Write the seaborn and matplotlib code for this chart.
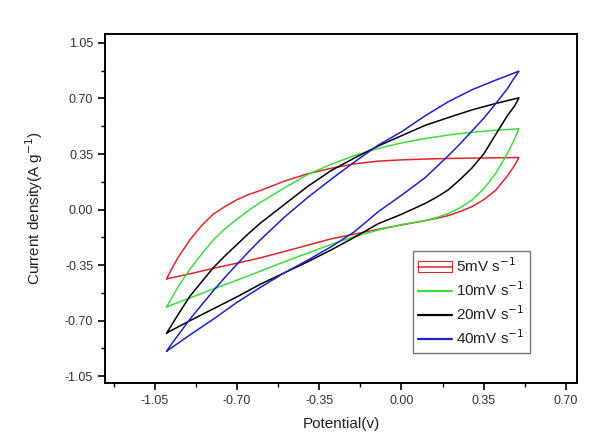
import numpy as np
import pandas as pd
import matplotlib
matplotlib.use("Agg")
import matplotlib.pyplot as plt
import seaborn as sns
from matplotlib.patches import Rectangle
from matplotlib.lines import Line2D
from matplotlib.ticker import MultipleLocator

# Potential grids (V): anodic sweep left -> right, cathodic sweep right -> left
v_up = [-1.0, -0.975, -0.95, -0.9, -0.85, -0.8, -0.75, -0.7, -0.65, -0.6, -0.5,
        -0.4, -0.3, -0.2, -0.1, 0.0, 0.1, 0.2, 0.3, 0.4, 0.5]
v_down = [0.5, 0.49, 0.48, 0.45, 0.4, 0.35, 0.3, 0.25, 0.2, 0.15, 0.1, 0.0, -0.1,
          -0.2, -0.3, -0.4, -0.5, -0.6, -0.7, -0.8, -0.9, -1.0]

# Current density (A/g)
i5_up = [-0.437, -0.365, -0.30, -0.19, -0.10, -0.028, 0.02, 0.062, 0.095, 0.12,
         0.178, 0.225, 0.26, 0.288, 0.305, 0.313, 0.318, 0.322, 0.324, 0.326, 0.328]
i5_down = [0.328, 0.30, 0.275, 0.21, 0.12, 0.062, 0.018, -0.012, -0.038, -0.055,
           -0.07, -0.097, -0.125, -0.155, -0.185, -0.225, -0.265, -0.304, -0.338,
           -0.37, -0.405, -0.437]

i10_up = [-0.614, -0.55, -0.485, -0.375, -0.28, -0.19, -0.12, -0.06, -0.005, 0.045,
          0.135, 0.22, 0.285, 0.34, 0.385, 0.42, 0.447, 0.47, 0.487, 0.50, 0.509]
i10_down = [0.509, 0.475, 0.44, 0.35, 0.225, 0.13, 0.06, 0.012, -0.025, -0.05,
            -0.07, -0.095, -0.13, -0.17, -0.22, -0.275, -0.33, -0.388, -0.445,
            -0.50, -0.557, -0.614]

i20_up = [-0.78, -0.72, -0.66, -0.545, -0.455, -0.365, -0.29, -0.22, -0.15, -0.085,
          0.03, 0.145, 0.245, 0.325, 0.40, 0.465, 0.53, 0.58, 0.628, 0.668, 0.704]
i20_down = [0.704, 0.675, 0.65, 0.59, 0.47, 0.35, 0.262, 0.19, 0.125, 0.078,
            0.038, -0.03, -0.09, -0.175, -0.255, -0.33, -0.40, -0.47, -0.55,
            -0.625, -0.70, -0.778]

i40_up = [-0.893, -0.84, -0.79, -0.69, -0.60, -0.51, -0.425, -0.345, -0.265, -0.19,
          -0.05, 0.075, 0.19, 0.30, 0.405, 0.49, 0.59, 0.68, 0.755, 0.815, 0.872]
i40_down = [0.872, 0.85, 0.83, 0.76, 0.665, 0.575, 0.495, 0.415, 0.34, 0.27,
            0.2, 0.09, -0.015, -0.14, -0.235, -0.32, -0.40, -0.49, -0.585,
            -0.69, -0.79, -0.893]

labels = ["5mV s$^{-1}$", "10mV s$^{-1}$", "20mV s$^{-1}$", "40mV s$^{-1}$"]
colors = ["#e0262c", "#3edc3e", "#000000", "#1c22c8"]
x_ticks = [-1.05, -0.70, -0.35, 0.00, 0.35, 0.70]
y_ticks = [-1.05, -0.70, -0.35, 0.00, 0.35, 0.70, 1.05]

sns.set_style("ticks")
plt.rcParams["font.family"] = ["Liberation Sans", "DejaVu Sans"]

fig = plt.figure(figsize=(6, 4.46), dpi=100)
ax = fig.add_axes([0.175, 0.141, 0.787, 0.783])

curves = [(i5_up, i5_down), (i10_up, i10_down), (i20_up, i20_down), (i40_up, i40_down)]
for (up, down), c in zip(curves, colors):
    df = pd.DataFrame({"v": v_up + v_down, "i": up + down})
    sns.lineplot(data=df, x="v", y="i", sort=False, estimator=None,
                 color=c, linewidth=1.1, ax=ax)

ax.set_xlim(-1.262, 0.748)
ax.set_ylim(-1.094, 1.107)
ax.set_xticks(x_ticks)
ax.set_yticks(y_ticks)
ax.set_xticklabels([f"{t:.2f}" for t in x_ticks])
ax.set_yticklabels([f"{t:.2f}" for t in y_ticks])
ax.xaxis.set_minor_locator(MultipleLocator(0.175))
ax.yaxis.set_minor_locator(MultipleLocator(0.175))
ax.tick_params(which="major", direction="out", length=5, width=1.2,
               labelsize=9, labelcolor="#333333", color="black")
ax.tick_params(which="minor", direction="out", length=3, width=1.0, color="black")
for s in ax.spines.values():
    s.set_visible(True)
    s.set_linewidth(1.4)
    s.set_color("black")

ax.set_xlabel("Potential(v)", fontsize=11, color="#222222", labelpad=7)
ax.set_ylabel("Current density(A g$^{-1}$)", fontsize=11, color="#222222", labelpad=14)

# legend: the 5mV entry is an outlined box split by a line
h5 = (Rectangle((0, 0), 1, 1, facecolor="white", edgecolor=colors[0], linewidth=0.8),
      Line2D([0], [0], color=colors[0], linewidth=1.1))
handles = [h5] + [Line2D([0], [0], color=c, linewidth=1.6) for c in colors[1:]]
leg = ax.legend(handles, labels, loc="upper left", bbox_to_anchor=(0.652, 0.378),
                borderaxespad=0, frameon=True, fancybox=False, fontsize=11,
                handlelength=2.2, handletextpad=0.3, labelspacing=0.35,
                borderpad=0.35)
leg.get_frame().set_edgecolor("#555555")
leg.get_frame().set_linewidth(1.0)
for t in leg.get_texts():
    t.set_color("#222222")

fig.savefig("out.png", dpi=100)
